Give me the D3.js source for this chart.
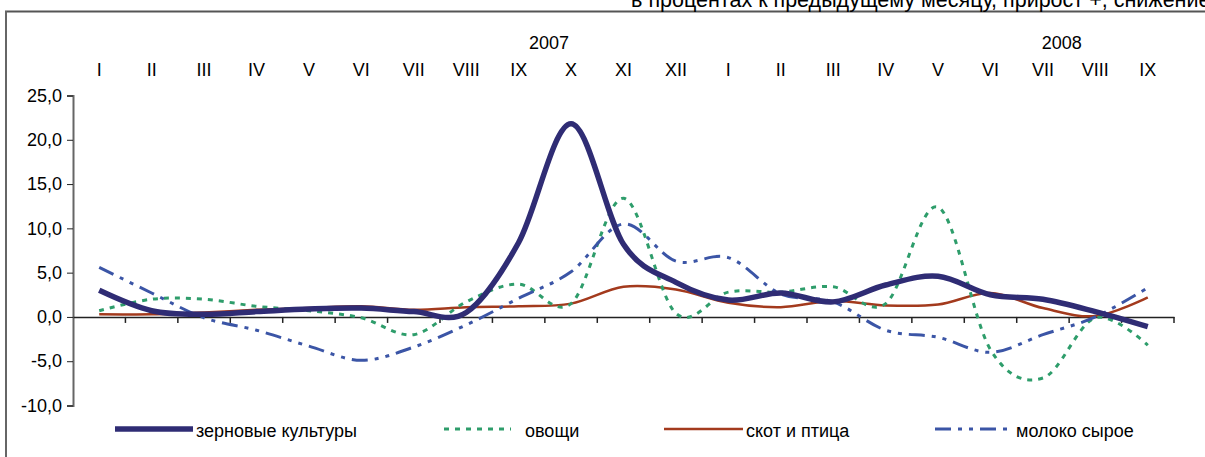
<!DOCTYPE html>
<html><head><meta charset="utf-8">
<script src="https://cdn.jsdelivr.net/npm/d3@7"></script>
<style>
html,body{margin:0;padding:0;background:#fff;}
svg{display:block;font-family:"Liberation Sans",Arial,sans-serif;}
</style></head>
<body>
<svg id="chart" width="1205" height="457"></svg>
<script>
const months = ["I","II","III","IV","V","VI","VII","VIII","IX","X","XI","XII","I","II","III","IV","V","VI","VII","VIII","IX"];
const years = [{label:"2007", index:8.58}, {label:"2008", index:18.36}];
const yTicks = [-10, -5, 0, 5, 10, 15, 20, 25];
const grain     = [3.0,0.7,0.3,0.6,0.9,1.0,0.6,0.5,8.4,21.8,8.2,3.9,1.9,2.7,1.7,3.6,4.6,2.5,2.0,0.6,-1.1];
const vegetables= [0.7,2.0,2.0,1.2,0.7,-0.1,-2.0,1.7,3.7,1.5,13.4,0.4,2.8,2.8,3.4,1.5,12.4,-3.7,-6.9,-0.1,-3.2];
const livestock = [0.3,0.3,0.5,0.8,1.0,1.2,0.8,1.1,1.2,1.5,3.4,3.1,1.6,1.1,1.8,1.3,1.4,2.7,1.0,0.1,2.2];
const milk      = [5.6,2.7,-0.1,-1.5,-3.3,-4.9,-3.4,-0.9,2.1,5.1,10.5,6.3,6.7,2.6,1.7,-1.5,-2.3,-4.0,-2.0,0.0,3.3];
const seriesNames = ["зерновые культуры","овощи","скот и птица","молоко сырое"];
const subtitle = "в процентах к предыдущему месяцу, прирост +, снижение -";

const series = [
  {name: seriesNames[0], values: grain,      color:"#2f2c74", width:5.5, dash:null,          lx0:115, lx1:193, tx:196},
  {name: seriesNames[1], values: vegetables, color:"#2e9d6b", width:3,   dash:"5,6",         lx0:444, lx1:511, tx:525},
  {name: seriesNames[2], values: livestock,  color:"#a33a1d", width:2.5, dash:null,          lx0:664, lx1:743, tx:746},
  {name: seriesNames[3], values: milk,       color:"#3b55a6", width:3,   dash:"16,7,4,7,4,7", lx0:935, lx1:1011, tx:1016}
];

const svg = d3.select("#chart");
const pLeft = 73, pRight = 1174, pTop = 95.5, pBottom = 405.5;

const x = d3.scaleBand().domain(d3.range(months.length)).range([pLeft, pRight]).padding(0);
const y = d3.scaleLinear().domain([-10, 25]).range([pBottom, pTop]);
const cx = i => x(i) + x.bandwidth()/2;
const cxFrac = v => pLeft + (v + 0.5) * x.bandwidth();

// frame
svg.append("line").attr("x1",5).attr("x2",1205).attr("y1",11.5).attr("y2",11.5).attr("stroke","#555").attr("stroke-width",2);
svg.append("line").attr("x1",6).attr("x2",6).attr("y1",11).attr("y2",457).attr("stroke","#666").attr("stroke-width",2);

// subtitle (clipped at top, as in the reference)
svg.append("text").attr("x",631).attr("y",7).attr("font-size",21.5).attr("fill","#000").text(subtitle);

// y axis
const yAxis = svg.append("g").attr("transform",`translate(${pLeft},0)`)
  .call(d3.axisLeft(y).tickValues(yTicks).tickSize(6).tickPadding(5)
    .tickFormat(d => d.toFixed(1).replace(".",",")));
yAxis.select(".domain").attr("stroke","#666").attr("stroke-width",2);
yAxis.selectAll(".tick line").attr("stroke","#222");
yAxis.selectAll(".tick text").attr("font-size",18).attr("font-family","Liberation Sans, Arial, sans-serif").attr("fill","#000");

// x axis at zero
const xAxis = svg.append("g").attr("transform",`translate(0,${y(0)})`)
  .call(d3.axisBottom(x).tickSize(0).tickFormat(""));
xAxis.select(".domain").attr("stroke","#222").attr("stroke-width",1.5);
xAxis.selectAll(".tick").remove();
svg.append("g").selectAll("line").data(d3.range(1, months.length+1)).join("line")
  .attr("x1", i => x(i-1) + x.bandwidth()).attr("x2", i => x(i-1) + x.bandwidth())
  .attr("y1", y(0)).attr("y2", y(0)+6).attr("stroke","#222").attr("stroke-width",1.5);

// month labels (top)
svg.append("g").selectAll("text").data(months).join("text")
  .attr("x", (d,i) => cx(i)).attr("y", 76).attr("text-anchor","middle").attr("font-size",18).text(d => d);
svg.append("g").selectAll("text").data(years).join("text")
  .attr("x", d => cxFrac(d.index)).attr("y", 49).attr("text-anchor","middle").attr("font-size",18).text(d => d.label);

// lines
const line = d3.line().x((d,i) => cx(i)).y(d => y(d)).curve(d3.curveCardinal.tension(0));
const drawOrder = [2, 1, 3, 0];
drawOrder.forEach(k => {
  const s = series[k];
  svg.append("path").datum(s.values).attr("d", line).attr("fill","none")
    .attr("stroke", s.color).attr("stroke-width", s.width)
    .attr("stroke-dasharray", s.dash).attr("stroke-linejoin","round");
});

// legend
const leg = svg.append("g");
series.forEach(s => {
  leg.append("line").attr("x1", s.lx0).attr("x2", s.lx1).attr("y1", 429).attr("y2", 429)
    .attr("stroke", s.color).attr("stroke-width", s.width).attr("stroke-dasharray", s.dash);
  leg.append("text").attr("x", s.tx).attr("y", 437).attr("font-size",18).text(s.name);
});
</script>
</body></html>
